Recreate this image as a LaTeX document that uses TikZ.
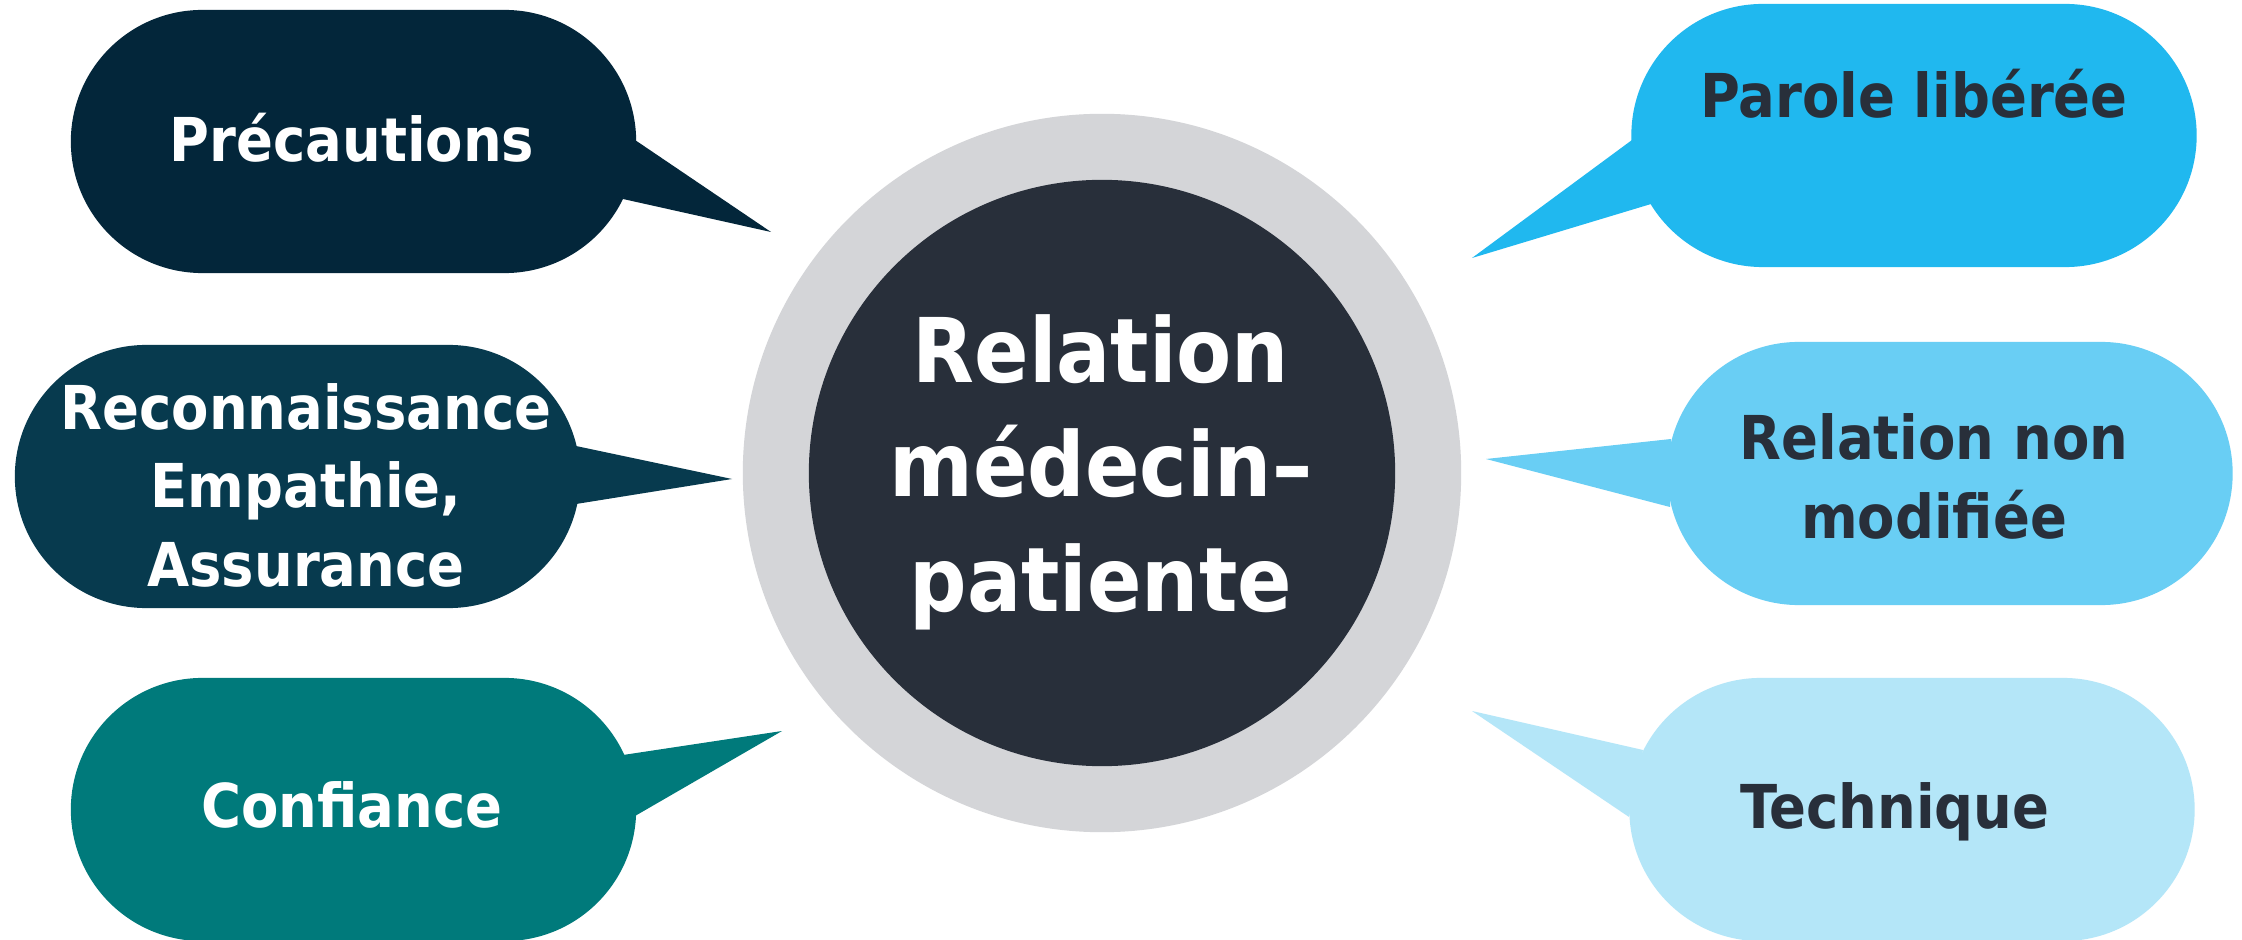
\documentclass[tikz,border=0pt]{standalone}
\usepackage{fontspec}
\setmainfont{DejaVu Sans}
\newfontfamily\condfont{DejaVu Sans Condensed}
\usetikzlibrary{calc}
\definecolor{cA}{HTML}{03263A}
\definecolor{cB}{HTML}{073A4E}
\definecolor{cC}{HTML}{007A7B}
\definecolor{cD}{HTML}{20B8EF}
\definecolor{cE}{HTML}{69CEF4}
\definecolor{cF}{HTML}{B4E6F8}
\definecolor{darkc}{HTML}{282F3A}
\definecolor{ringc}{HTML}{D4D5D8}
\begin{document}
\begin{tikzpicture}[x=0.01cm,y=-0.01cm,
  bubble/.style={rectangle, rounded corners=1.315cm, minimum width=5.65cm, minimum height=2.63cm, inner sep=0pt},
  btext/.style={anchor=base, inner sep=0pt, font=\condfont\bfseries\fontsize{17.2}{22}\selectfont},
  ctext/.style={anchor=base, inner sep=0pt, text=white, font=\condfont\bfseries\fontsize{25.4}{32}\selectfont}]
\useasboundingbox (0,0) rectangle (2242,940);
\fill[white] (0,0) rectangle (2242,940);

% centre
\node[circle, fill=ringc, minimum size=7.18cm, inner sep=0pt] (ring) at (1102,473) {};
\node[circle, fill=darkc, minimum size=5.86cm, inner sep=0pt] (core) at (1102,473) {};
\node[ctext] (m1) at (1101,383) {Relation};
\node[ctext] (m2) at (1101,497) {médecin–};
\node[ctext] (m3) at (1101,611) {patiente};

% bubbles
\node[bubble, fill=cA] (b1) at (353.5,141.5) {};
\node[bubble, fill=cB] (b2) at (297.5,476.5) {};
\node[bubble, fill=cC] (b3) at (353.5,809.5) {};
\node[bubble, fill=cD] (b4) at (1914,135.5) {};
\node[bubble, fill=cE] (b5) at (1950,473.5) {};
\node[bubble, fill=cF] (b6) at (1912,809.5) {};

% tails
\coordinate (t1) at (771,232);
\coordinate (t2) at (732,479);
\coordinate (t3) at (782,731);
\coordinate (t4) at (1472,258);
\coordinate (t5) at (1486,459);
\coordinate (t6) at (1472,711);
\fill[cA] ($(b1.center)+(281.5,-1.5)$) -- (t1) -- ($(b1.center)+(269.5,57.5)$) -- cycle;
\fill[cB] ($(b2.center)+(278.5,-30.5)$) -- (t2) -- ($(b2.center)+(278.5,27.5)$) -- cycle;
\fill[cC] ($(b3.center)+(269.5,-54.5)$) -- (t3) -- ($(b3.center)+(281.5,6.5)$) -- cycle;
\fill[cD] ($(b4.center)+(-282,4.5)$) -- (t4) -- ($(b4.center)+(-263,68.5)$) -- cycle;
\fill[cE] ($(b5.center)+(-279,-34.5)$) -- (t5) -- ($(b5.center)+(-280,33.5)$) -- cycle;
\fill[cF] ($(b6.center)+(-269,-59.5)$) -- (t6) -- ($(b6.center)+(-283,7.5)$) -- cycle;

% texts
\node[btext, text=white] (l1) at (352,162) {Précautions};
\node[btext, text=white] (l2a) at (306,430) {Reconnaissance};
\node[btext, text=white] (l2b) at (306,508) {Empathie,};
\node[btext, text=white] (l2c) at (306,587) {Assurance};
\node[btext, text=white] (l3) at (352,827) {Confiance};
\node[btext, text=darkc] (l4) at (1914,118) {Parole libérée};
\node[btext, text=darkc] (l5a) at (1934,460) {Relation non};
\node[btext, text=darkc] (l5b) at (1934,538) {modifiée};
\node[btext, text=darkc] (l6) at (1895,828) {Technique};
\end{tikzpicture}
\end{document}
